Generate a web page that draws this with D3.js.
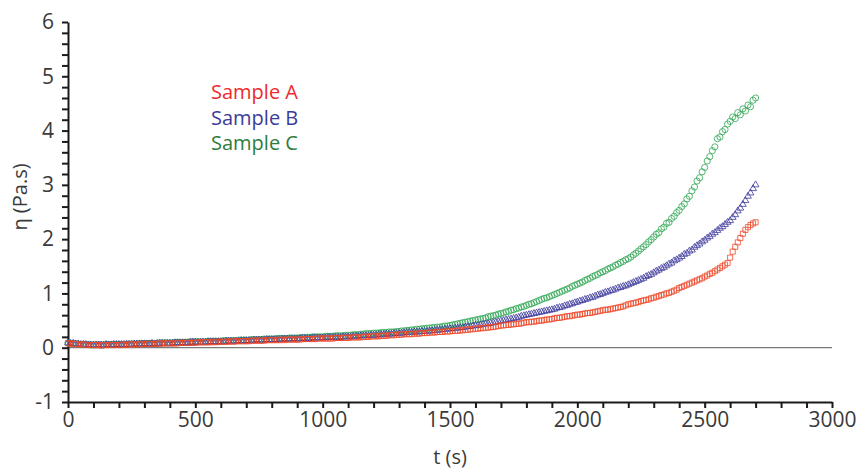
<!DOCTYPE html>
<html lang="en">
<head>
<meta charset="UTF-8" />
<title>Viscosity vs time</title>
<style>
  body { margin: 0; background: #fff; }
  .chart text { font-family: "Open Sans", sans-serif; }
</style>
</head>
<body>
<div class="chart"></div>
<script src="https://d3js.org/d3.v7.min.js"></script>
<script>
// time (s), one reading every 10 s
const timeS = [
  0, 10, 20, 30, 40, 50, 60, 70, 80, 90,
  100, 110, 120, 130, 140, 150, 160, 170, 180, 190,
  200, 210, 220, 230, 240, 250, 260, 270, 280, 290,
  300, 310, 320, 330, 340, 350, 360, 370, 380, 390,
  400, 410, 420, 430, 440, 450, 460, 470, 480, 490,
  500, 510, 520, 530, 540, 550, 560, 570, 580, 590,
  600, 610, 620, 630, 640, 650, 660, 670, 680, 690,
  700, 710, 720, 730, 740, 750, 760, 770, 780, 790,
  800, 810, 820, 830, 840, 850, 860, 870, 880, 890,
  900, 910, 920, 930, 940, 950, 960, 970, 980, 990,
  1000, 1010, 1020, 1030, 1040, 1050, 1060, 1070, 1080, 1090,
  1100, 1110, 1120, 1130, 1140, 1150, 1160, 1170, 1180, 1190,
  1200, 1210, 1220, 1230, 1240, 1250, 1260, 1270, 1280, 1290,
  1300, 1310, 1320, 1330, 1340, 1350, 1360, 1370, 1380, 1390,
  1400, 1410, 1420, 1430, 1440, 1450, 1460, 1470, 1480, 1490,
  1500, 1510, 1520, 1530, 1540, 1550, 1560, 1570, 1580, 1590,
  1600, 1610, 1620, 1630, 1640, 1650, 1660, 1670, 1680, 1690,
  1700, 1710, 1720, 1730, 1740, 1750, 1760, 1770, 1780, 1790,
  1800, 1810, 1820, 1830, 1840, 1850, 1860, 1870, 1880, 1890,
  1900, 1910, 1920, 1930, 1940, 1950, 1960, 1970, 1980, 1990,
  2000, 2010, 2020, 2030, 2040, 2050, 2060, 2070, 2080, 2090,
  2100, 2110, 2120, 2130, 2140, 2150, 2160, 2170, 2180, 2190,
  2200, 2210, 2220, 2230, 2240, 2250, 2260, 2270, 2280, 2290,
  2300, 2310, 2320, 2330, 2340, 2350, 2360, 2370, 2380, 2390,
  2400, 2410, 2420, 2430, 2440, 2450, 2460, 2470, 2480, 2490,
  2500, 2510, 2520, 2530, 2540, 2550, 2560, 2570, 2580, 2590,
  2600, 2610, 2620, 2630, 2640, 2650, 2660, 2670, 2680, 2690,
  2700
]

// viscosity (Pa.s)
const sampleA = [
  0.08, 0.08, 0.07, 0.07, 0.06, 0.06, 0.06, 0.05, 0.05, 0.05,
  0.05, 0.05, 0.05, 0.04, 0.05, 0.05, 0.05, 0.05, 0.05, 0.05,
  0.05, 0.05, 0.06, 0.05, 0.06, 0.06, 0.06, 0.06, 0.06, 0.07,
  0.07, 0.07, 0.07, 0.07, 0.07, 0.08, 0.07, 0.08, 0.08, 0.08,
  0.08, 0.08, 0.08, 0.08, 0.09, 0.09, 0.09, 0.09, 0.09, 0.09,
  0.09, 0.10, 0.10, 0.10, 0.10, 0.10, 0.10, 0.11, 0.10, 0.11,
  0.11, 0.11, 0.11, 0.11, 0.12, 0.11, 0.12, 0.12, 0.12, 0.12,
  0.12, 0.12, 0.13, 0.13, 0.13, 0.13, 0.13, 0.13, 0.14, 0.14,
  0.14, 0.14, 0.14, 0.14, 0.15, 0.14, 0.15, 0.15, 0.15, 0.15,
  0.15, 0.15, 0.16, 0.16, 0.16, 0.16, 0.16, 0.16, 0.17, 0.17,
  0.17, 0.17, 0.17, 0.17, 0.17, 0.18, 0.18, 0.18, 0.18, 0.18,
  0.18, 0.19, 0.19, 0.19, 0.19, 0.19, 0.20, 0.20, 0.20, 0.21,
  0.21, 0.21, 0.21, 0.22, 0.22, 0.22, 0.23, 0.23, 0.23, 0.24,
  0.24, 0.24, 0.25, 0.25, 0.25, 0.25, 0.26, 0.26, 0.26, 0.27,
  0.27, 0.27, 0.28, 0.28, 0.28, 0.29, 0.29, 0.29, 0.30, 0.30,
  0.30, 0.31, 0.31, 0.31, 0.32, 0.32, 0.33, 0.33, 0.34, 0.34,
  0.35, 0.35, 0.36, 0.36, 0.37, 0.37, 0.38, 0.38, 0.39, 0.40,
  0.41, 0.41, 0.42, 0.42, 0.43, 0.43, 0.44, 0.44, 0.45, 0.46,
  0.47, 0.47, 0.48, 0.48, 0.49, 0.50, 0.50, 0.51, 0.52, 0.52,
  0.53, 0.54, 0.55, 0.55, 0.56, 0.57, 0.58, 0.58, 0.59, 0.60,
  0.61, 0.61, 0.62, 0.63, 0.64, 0.64, 0.65, 0.66, 0.67, 0.68,
  0.69, 0.70, 0.70, 0.71, 0.72, 0.73, 0.74, 0.75, 0.76, 0.78,
  0.80, 0.81, 0.82, 0.83, 0.84, 0.86, 0.87, 0.88, 0.89, 0.91,
  0.92, 0.94, 0.95, 0.97, 0.98, 1.00, 1.01, 1.03, 1.05, 1.07,
  1.10, 1.12, 1.14, 1.16, 1.18, 1.20, 1.22, 1.24, 1.26, 1.28,
  1.31, 1.33, 1.36, 1.38, 1.41, 1.44, 1.47, 1.50, 1.53, 1.56,
  1.66, 1.77, 1.86, 1.94, 2.02, 2.10, 2.17, 2.22, 2.26, 2.29,
  2.31
]
const sampleB = [
  0.09, 0.08, 0.08, 0.07, 0.07, 0.06, 0.06, 0.06, 0.05, 0.05,
  0.05, 0.05, 0.05, 0.05, 0.05, 0.06, 0.05, 0.05, 0.06, 0.06,
  0.06, 0.06, 0.06, 0.06, 0.06, 0.06, 0.07, 0.07, 0.07, 0.07,
  0.07, 0.07, 0.07, 0.08, 0.07, 0.08, 0.08, 0.08, 0.08, 0.08,
  0.08, 0.08, 0.09, 0.09, 0.09, 0.09, 0.09, 0.09, 0.10, 0.10,
  0.10, 0.10, 0.10, 0.10, 0.10, 0.11, 0.11, 0.11, 0.11, 0.11,
  0.11, 0.11, 0.12, 0.12, 0.12, 0.12, 0.12, 0.12, 0.13, 0.13,
  0.13, 0.13, 0.13, 0.14, 0.14, 0.14, 0.14, 0.14, 0.15, 0.15,
  0.15, 0.15, 0.15, 0.15, 0.16, 0.16, 0.16, 0.16, 0.16, 0.16,
  0.16, 0.17, 0.17, 0.17, 0.17, 0.17, 0.18, 0.18, 0.18, 0.18,
  0.18, 0.18, 0.19, 0.19, 0.19, 0.19, 0.19, 0.19, 0.20, 0.20,
  0.20, 0.20, 0.21, 0.21, 0.21, 0.22, 0.22, 0.22, 0.22, 0.23,
  0.23, 0.23, 0.24, 0.24, 0.24, 0.25, 0.25, 0.25, 0.26, 0.26,
  0.26, 0.27, 0.27, 0.28, 0.28, 0.28, 0.29, 0.29, 0.29, 0.30,
  0.30, 0.30, 0.31, 0.31, 0.32, 0.32, 0.33, 0.33, 0.34, 0.34,
  0.35, 0.35, 0.36, 0.36, 0.37, 0.37, 0.38, 0.39, 0.39, 0.40,
  0.41, 0.41, 0.42, 0.43, 0.44, 0.44, 0.45, 0.46, 0.47, 0.48,
  0.49, 0.50, 0.51, 0.52, 0.53, 0.54, 0.55, 0.56, 0.58, 0.59,
  0.60, 0.61, 0.62, 0.63, 0.64, 0.65, 0.66, 0.67, 0.68, 0.69,
  0.70, 0.71, 0.73, 0.74, 0.75, 0.77, 0.78, 0.80, 0.81, 0.83,
  0.84, 0.86, 0.87, 0.89, 0.90, 0.92, 0.93, 0.95, 0.97, 0.98,
  1.00, 1.02, 1.03, 1.05, 1.06, 1.08, 1.10, 1.11, 1.13, 1.14,
  1.16, 1.18, 1.20, 1.22, 1.24, 1.26, 1.28, 1.31, 1.33, 1.35,
  1.38, 1.41, 1.43, 1.46, 1.48, 1.51, 1.54, 1.56, 1.60, 1.62,
  1.65, 1.68, 1.72, 1.74, 1.78, 1.80, 1.85, 1.88, 1.91, 1.95,
  1.98, 2.02, 2.05, 2.09, 2.12, 2.16, 2.20, 2.23, 2.27, 2.31,
  2.34, 2.40, 2.45, 2.52, 2.57, 2.64, 2.71, 2.79, 2.85, 2.93,
  3.00
]
const sampleC = [
  0.09, 0.08, 0.08, 0.07, 0.07, 0.06, 0.06, 0.06, 0.06, 0.05,
  0.05, 0.05, 0.06, 0.05, 0.05, 0.06, 0.06, 0.06, 0.06, 0.06,
  0.06, 0.06, 0.06, 0.07, 0.07, 0.07, 0.07, 0.07, 0.07, 0.08,
  0.08, 0.08, 0.08, 0.08, 0.08, 0.08, 0.09, 0.09, 0.09, 0.09,
  0.09, 0.09, 0.10, 0.10, 0.10, 0.10, 0.10, 0.10, 0.11, 0.11,
  0.11, 0.11, 0.11, 0.11, 0.11, 0.12, 0.12, 0.12, 0.12, 0.12,
  0.12, 0.13, 0.13, 0.13, 0.13, 0.13, 0.13, 0.14, 0.14, 0.14,
  0.14, 0.14, 0.15, 0.15, 0.15, 0.15, 0.15, 0.16, 0.16, 0.16,
  0.16, 0.16, 0.17, 0.17, 0.17, 0.17, 0.17, 0.18, 0.18, 0.18,
  0.18, 0.18, 0.19, 0.19, 0.19, 0.19, 0.20, 0.20, 0.20, 0.20,
  0.20, 0.21, 0.21, 0.21, 0.21, 0.22, 0.22, 0.22, 0.22, 0.23,
  0.23, 0.23, 0.24, 0.24, 0.24, 0.25, 0.25, 0.26, 0.26, 0.26,
  0.27, 0.27, 0.27, 0.28, 0.28, 0.28, 0.29, 0.29, 0.29, 0.30,
  0.30, 0.31, 0.31, 0.32, 0.32, 0.33, 0.33, 0.34, 0.34, 0.35,
  0.35, 0.36, 0.36, 0.37, 0.37, 0.38, 0.38, 0.39, 0.40, 0.40,
  0.41, 0.42, 0.43, 0.44, 0.45, 0.46, 0.47, 0.48, 0.49, 0.50,
  0.51, 0.52, 0.53, 0.54, 0.55, 0.57, 0.58, 0.59, 0.60, 0.62,
  0.63, 0.64, 0.66, 0.67, 0.69, 0.70, 0.72, 0.73, 0.75, 0.76,
  0.78, 0.80, 0.81, 0.83, 0.85, 0.87, 0.89, 0.91, 0.92, 0.94,
  0.96, 0.98, 1.00, 1.02, 1.04, 1.06, 1.08, 1.10, 1.13, 1.15,
  1.17, 1.19, 1.21, 1.24, 1.26, 1.28, 1.31, 1.33, 1.35, 1.38,
  1.40, 1.42, 1.45, 1.47, 1.49, 1.52, 1.54, 1.57, 1.59, 1.62,
  1.64, 1.67, 1.71, 1.74, 1.78, 1.82, 1.86, 1.90, 1.95, 1.99,
  2.04, 2.09, 2.12, 2.19, 2.22, 2.29, 2.31, 2.38, 2.42, 2.49,
  2.53, 2.60, 2.65, 2.74, 2.79, 2.89, 2.96, 3.07, 3.13, 3.24,
  3.32, 3.44, 3.52, 3.63, 3.70, 3.85, 3.88, 3.98, 4.02, 4.12,
  4.17, 4.25, 4.22, 4.33, 4.29, 4.40, 4.36, 4.47, 4.44, 4.56,
  4.60
]

const seriesNames = ['Sample A', 'Sample B', 'Sample C']
const xTickLabels = [0, 500, 1000, 1500, 2000, 2500, 3000]
const yTickLabels = [-1, 0, 1, 2, 3, 4, 5, 6]

const width = 860, height = 469
const margin = {top: 22, right: 28, bottom: 67, left: 68}

const series = [
  {name: seriesNames[0], values: sampleA, color: '#ee4a2c', text: '#ee2a2f', symbol: d3.symbolSquare, size: 26},
  {name: seriesNames[1], values: sampleB, color: '#3d3a9e', text: '#3c3c9a', symbol: d3.symbolTriangle, size: 20},
  {name: seriesNames[2], values: sampleC, color: '#2ea653', text: '#2e7d40', symbol: d3.symbolCircle, size: 30}
]

const svg = d3.select('.chart')
              .append('svg')
              .attr('width', width)
              .attr('height', height)

const xScale = d3.scaleLinear()
                 .domain([0, 3000])
                 .range([margin.left, width - margin.right])

const yScale = d3.scaleLinear()
                 .domain([-1, 6])
                 .range([height - margin.bottom, margin.top])

// zero line
svg.append('line')
   .attr('x1', xScale(0))
   .attr('x2', xScale(3000))
   .attr('y1', yScale(0))
   .attr('y2', yScale(0))
   .attr('stroke', '#7a7a7a')
   .attr('stroke-width', 1.3)

// x axis, minor tick every 100 s
const xAxis = d3.axisBottom(xScale)
                .tickValues(d3.range(0, 3001, 100))
                .tickSize(6)
                .tickSizeOuter(0)
                .tickPadding(4)
                .tickFormat(d => xTickLabels.includes(d) ? String(d) : '')

svg.append('g')
   .attr('transform', `translate(0,${yScale(-1)})`)
   .call(xAxis)

// y axis, minor tick every 0.2
const yAxis = d3.axisLeft(yScale)
                .tickValues(d3.range(-10, 61, 2).map(d => d / 10))
                .tickSize(6)
                .tickSizeOuter(0)
                .tickPadding(8)
                .tickFormat(d => yTickLabels.includes(d) ? String(d) : '')

svg.append('g')
   .attr('transform', `translate(${xScale(0)},0)`)
   .call(yAxis)

svg.selectAll('.domain').attr('stroke', '#1a1a1a').attr('stroke-width', 2)
svg.selectAll('.tick line').attr('stroke', '#1a1a1a').attr('stroke-width', 2)
svg.selectAll('.tick text')
   .attr('font-size', 21)
   .attr('font-family', '"Open Sans", sans-serif')
   .attr('fill', '#3a3a3a')

// axis titles
svg.append('text')
   .attr('x', (xScale(0) + xScale(3000)) / 2)
   .attr('y', 464)
   .attr('text-anchor', 'middle')
   .attr('font-size', 20)
   .attr('fill', '#3a3a3a')
   .text('t (s)')

svg.append('text')
   .attr('transform', 'translate(27,197) rotate(-90)')
   .attr('text-anchor', 'middle')
   .attr('font-size', 20)
   .attr('fill', '#3a3a3a')
   .text('η (Pa.s)')

// markers (C first so A sits on top)
series.slice().reverse().forEach(s => {
  const pts = timeS.map((t, i) => ({t: t, v: s.values[i]}))
  svg.append('g')
     .selectAll('path')
     .data(pts)
     .join('path')
     .attr('transform', d => `translate(${xScale(d.t)},${yScale(d.v)})`)
     .attr('d', d3.symbol().type(s.symbol).size(s.size))
     .attr('fill', 'none')
     .attr('stroke', s.color)
     .attr('stroke-width', 1)
     .attr('stroke-opacity', 0.8)
})

// legend
svg.append('g')
   .selectAll('text')
   .data(series)
   .join('text')
   .attr('x', 211)
   .attr('y', (d, i) => 99 + i * 25.5)
   .attr('font-size', 20)
   .attr('fill', d => d.text)
   .text(d => d.name)
</script>
</body>
</html>
